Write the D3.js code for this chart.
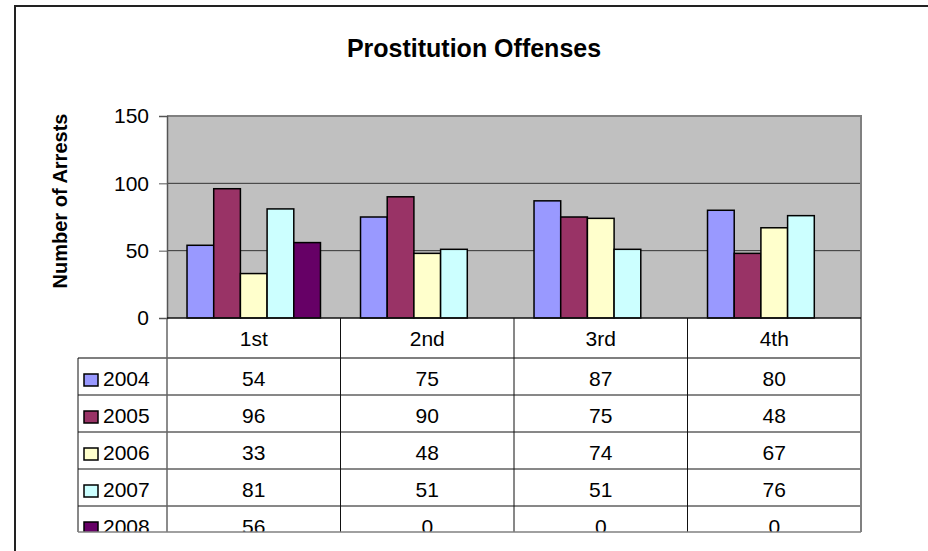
<!DOCTYPE html>
<html>
<head>
<meta charset="utf-8">
<script src="https://cdn.jsdelivr.net/npm/d3@7"></script>
<style>
  html, body { margin: 0; padding: 0; background: #fff; }
  svg { display: block; font-family: Arial, "Liberation Sans", sans-serif; }
</style>
</head>
<body>
<div id="chart"></div>
<script>
// Prostitution Offenses - arrests per quarter, with data table under the plot

const quarters = ["1st", "2nd", "3rd", "4th"];
const years = ["2004", "2005", "2006", "2007", "2008"];
const arrests2004 = [54, 75, 87, 80];
const arrests2005 = [96, 90, 75, 48];
const arrests2006 = [33, 48, 74, 67];
const arrests2007 = [81, 51, 51, 76];
const arrests2008 = [56, 0, 0, 0];
const yTicks = [0, 50, 100, 150];
const yearColors = ["#9999ff", "#993366", "#ffffcc", "#ccffff", "#660066"];

const seriesValues = [arrests2004, arrests2005, arrests2006, arrests2007, arrests2008];
const series = years.map((y, i) => ({ year: y, color: yearColors[i], values: seriesValues[i] }));

const width = 928, height = 551;
const plot = { left: 167, right: 861, top: 116, bottom: 318 };
const table = { left: 78, headerBottom: 358, rowH: 37, clipBottom: 532 };

const svg = d3.select("#chart").append("svg")
  .attr("width", width)
  .attr("height", height);

// outer chart frame (runs off the right/bottom edge)
svg.append("rect")
  .attr("x", 15).attr("y", 6)
  .attr("width", 1000).attr("height", 1000)
  .attr("fill", "#fff")
  .attr("stroke", "#222")
  .attr("stroke-width", 2);

// title
svg.append("text")
  .attr("x", 474).attr("y", 57)
  .attr("text-anchor", "middle")
  .attr("font-size", "25px")
  .attr("font-weight", "bold")
  .text("Prostitution Offenses");

// scales
const x = d3.scaleBand()
  .domain(quarters)
  .range([plot.left, plot.right])
  .padding(0);

const xInner = d3.scaleBand()
  .domain(years)
  .range([0, x.bandwidth()])
  .paddingInner(0)
  .paddingOuter(0.75);

const y = d3.scaleLinear()
  .domain([0, 150])
  .range([plot.bottom, plot.top]);

// plot background
svg.append("rect")
  .attr("x", plot.left).attr("y", plot.top)
  .attr("width", plot.right - plot.left)
  .attr("height", plot.bottom - plot.top)
  .attr("fill", "#c0c0c0");

// gridlines
svg.append("g")
  .selectAll("line")
  .data(yTicks.filter(d => d > 0 && d < 150))
  .join("line")
  .attr("x1", plot.left).attr("x2", plot.right)
  .attr("y1", d => y(d)).attr("y2", d => y(d))
  .attr("stroke", "#333")
  .attr("stroke-width", 1);

// plot border (top + right, gray)
svg.append("path")
  .attr("d", `M${plot.left},${plot.top}H${plot.right}V${plot.bottom}`)
  .attr("fill", "none")
  .attr("stroke", "#808080")
  .attr("stroke-width", 2);

// bars
const groups = svg.append("g")
  .selectAll("g")
  .data(series)
  .join("g")
  .attr("fill", d => d.color);

groups.selectAll("rect")
  .data(d => d.values.map((v, i) => ({ year: d.year, q: quarters[i], v })).filter(e => e.v > 0))
  .join("rect")
  .attr("x", d => x(d.q) + xInner(d.year))
  .attr("y", d => y(d.v))
  .attr("width", xInner.bandwidth())
  .attr("height", d => y(0) - y(d.v))
  .attr("stroke", "#000")
  .attr("stroke-width", 1.5);

// y axis
const yAxis = svg.append("g")
  .attr("transform", `translate(${plot.left},0)`)
  .call(d3.axisLeft(y).tickValues(yTicks).tickSize(8).tickPadding(10));
yAxis.select(".domain").attr("stroke", "#555").attr("stroke-width", 1.5);
yAxis.selectAll(".tick line").attr("stroke", "#555");
yAxis.selectAll(".tick text")
  .attr("font-size", "21px")
  .attr("font-family", "Arial, 'Liberation Sans', sans-serif")
  .attr("fill", "#000");

// y axis title
svg.append("text")
  .attr("transform", "translate(67,201) rotate(-90)")
  .attr("text-anchor", "middle")
  .attr("font-size", "20px")
  .attr("font-weight", "bold")
  .text("Number of Arrests");

// ---- data table ----
svg.append("clipPath").attr("id", "tableClip")
  .append("rect")
  .attr("x", 0).attr("y", 0)
  .attr("width", width).attr("height", table.clipBottom);

const tbl = svg.append("g").attr("clip-path", "url(#tableClip)");
const rowTop = i => table.headerBottom + i * table.rowH;

// horizontal row lines
tbl.selectAll("line.row")
  .data(d3.range(1, years.length))
  .join("line")
  .attr("class", "row")
  .attr("x1", table.left).attr("x2", plot.right)
  .attr("y1", i => rowTop(i)).attr("y2", i => rowTop(i))
  .attr("stroke", "#111").attr("stroke-width", 1);

// header bottom line
tbl.append("line")
  .attr("x1", table.left).attr("x2", plot.right)
  .attr("y1", table.headerBottom).attr("y2", table.headerBottom)
  .attr("stroke", "#555").attr("stroke-width", 1.5);

// vertical column lines between quarters
tbl.selectAll("line.col")
  .data(quarters.slice(1))
  .join("line")
  .attr("class", "col")
  .attr("x1", d => x(d)).attr("x2", d => x(d))
  .attr("y1", plot.bottom).attr("y2", table.clipBottom)
  .attr("stroke", "#111").attr("stroke-width", 1);

// left edge of value columns (gray) and right edge
tbl.append("line")
  .attr("x1", plot.left).attr("x2", plot.left)
  .attr("y1", plot.bottom).attr("y2", table.clipBottom)
  .attr("stroke", "#666").attr("stroke-width", 1.5);
tbl.append("line")
  .attr("x1", plot.right).attr("x2", plot.right)
  .attr("y1", plot.bottom).attr("y2", table.clipBottom)
  .attr("stroke", "#808080").attr("stroke-width", 2);

// legend column left edge
tbl.append("line")
  .attr("x1", table.left).attr("x2", table.left)
  .attr("y1", table.headerBottom).attr("y2", table.clipBottom)
  .attr("stroke", "#111").attr("stroke-width", 1);

// bottom line (clip edge)
svg.append("line")
  .attr("x1", table.left).attr("x2", plot.right)
  .attr("y1", table.clipBottom).attr("y2", table.clipBottom)
  .attr("stroke", "#808080").attr("stroke-width", 1.5);

// x axis line (over bars bottom)
svg.append("line")
  .attr("x1", plot.left).attr("x2", plot.right)
  .attr("y1", plot.bottom).attr("y2", plot.bottom)
  .attr("stroke", "#111").attr("stroke-width", 1.5);

// header labels
tbl.selectAll("text.hdr")
  .data(quarters)
  .join("text")
  .attr("class", "hdr")
  .attr("x", d => x(d) + x.bandwidth() / 2)
  .attr("y", plot.bottom + 28)
  .attr("text-anchor", "middle")
  .attr("font-size", "21px")
  .text(d => d);

// rows: legend key + year + values
const rows = tbl.selectAll("g.datarow")
  .data(series)
  .join("g")
  .attr("class", "datarow")
  .attr("transform", (d, i) => `translate(0,${rowTop(i)})`);

rows.append("rect")
  .attr("x", 84).attr("y", 16)
  .attr("width", 14).attr("height", 12)
  .attr("fill", d => d.color)
  .attr("stroke", "#000")
  .attr("stroke-width", 1.5);

rows.append("text")
  .attr("x", 103).attr("y", 27.5)
  .attr("font-size", "21px")
  .text(d => d.year);

rows.selectAll("text.val")
  .data(d => d.values.map((v, i) => ({ q: quarters[i], v })))
  .join("text")
  .attr("class", "val")
  .attr("x", d => x(d.q) + x.bandwidth() / 2)
  .attr("y", 27.5)
  .attr("text-anchor", "middle")
  .attr("font-size", "21px")
  .text(d => d.v);
</script>
</body>
</html>
